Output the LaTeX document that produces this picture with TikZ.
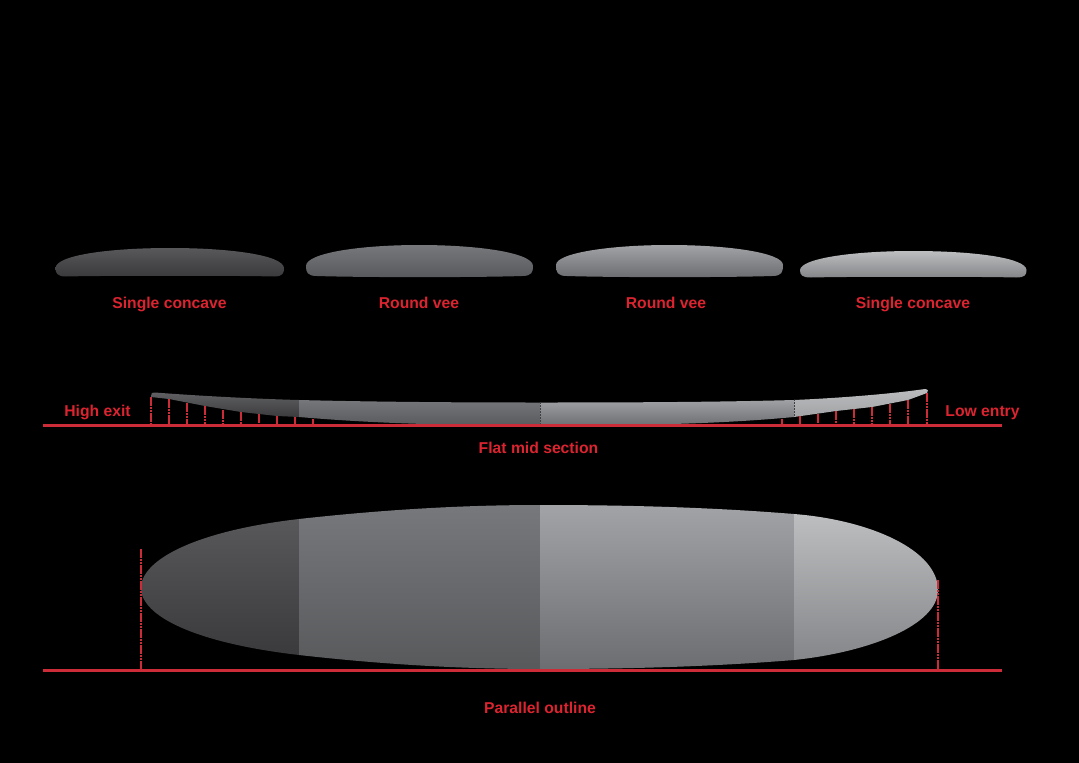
\documentclass[tikz,border=0pt]{standalone}
\usepackage{fontspec}
\setmainfont{Liberation Sans}
\definecolor{redline}{HTML}{CB2C38}
\definecolor{redtext}{HTML}{DC2430}
\definecolor{sAt}{HTML}{58585B}\definecolor{sAb}{HTML}{3A3A3C}
\definecolor{sBt}{HTML}{77787C}\definecolor{sBb}{HTML}{58595B}
\definecolor{sCt}{HTML}{A2A3A6}\definecolor{sCb}{HTML}{6C6D70}
\definecolor{sDt}{HTML}{BCBEC0}\definecolor{sDb}{HTML}{858689}
\tikzset{
  lbl/.style={text=redtext,font=\fontsize{15.7}{16}\selectfont\bfseries,inner sep=0pt,anchor=base},
  guide/.style={redline,line width=1.6pt,dash pattern=on 2.6pt off 0.6pt},
  base/.style={redline,line width=2.4pt},
  divider/.style={black!75!white,line width=0.6pt,dash pattern=on 1.5pt off 1.5pt},
}
\def\planpath{(141,588) .. controls (141,560) and (195,531) .. (299,519)
  .. controls (380,510) and (460,505) .. (540,505)
  .. controls (640,505) and (720,508) .. (794,514)
  .. controls (870,520) and (938,550) .. (938,590)
  .. controls (938,625) and (870,652) .. (794,660)
  .. controls (720,666) and (640,669) .. (540,669)
  .. controls (450,669) and (370,663) .. (299,655)
  .. controls (195,643) and (141,616) .. (141,588) -- cycle}
\def\rockerpath{(151,396) .. controls (151,393) and (152,392) .. (155,392.5)
  .. controls (200,396) and (260,399) .. (299,400)
  .. controls (380,402) and (460,402.5) .. (540,402.5)
  .. controls (640,402.5) and (720,402) .. (794,400)
  .. controls (840,398) and (890,394) .. (925,389)
  .. controls (928,389) and (929,392) .. (927,393)
  -- (908,400) -- (872,407) -- (836,411) -- (794,417)
  .. controls (720,424) and (640,425.5) .. (540,425.5)
  .. controls (460,425.5) and (380,424) .. (299,417)
  -- (277,416) -- (241,412) -- (205,406) -- (169,399) -- (151,397) -- cycle}
\begin{document}
\begin{tikzpicture}[x=1pt,y=-1pt]
\useasboundingbox (0,0) rectangle (1079,763);
\fill[black] (0,0) rectangle (1079,763);
% cross sections
\shade[top color=sAt,middle color=sAt!85!sAb,bottom color=sAb,shading angle=0]
  (55.5,268) .. controls (56,255) and (110,248) .. (170,248)
  .. controls (230,248) and (283,255) .. (284,268)
  .. controls (284,273) and (283,276.5) .. (274,276.5)
  .. controls (240,275.5) and (100,275.5) .. (66,276.5)
  .. controls (57,276.5) and (55.5,273) .. (55.5,268) -- cycle;
\shade[top color=sBt,middle color=sBt!95!sBb,bottom color=sBb,shading angle=0]
  (306,266) .. controls (306,253) and (360,245) .. (419,245)
  .. controls (480,245) and (533,253) .. (533,266)
  .. controls (533,272) and (532,276) .. (522,276)
  .. controls (480,277.5) and (360,277.5) .. (317,276)
  .. controls (307,276) and (306,272) .. (306,266) -- cycle;
\shade[top color=sCt,middle color=sCt!92!sCb,bottom color=sCb,shading angle=0]
  (556,265) .. controls (556,253) and (610,245) .. (669,245)
  .. controls (730,245) and (783,253) .. (783,265)
  .. controls (783,272) and (782,276) .. (772,276)
  .. controls (730,277.5) and (610,277.5) .. (567,276)
  .. controls (557,276) and (556,272) .. (556,265) -- cycle;
\shade[top color=sDt,middle color=sDt!92!sDb,bottom color=sDb,shading angle=0]
  (800,270) .. controls (801,258) and (855,251) .. (913,251)
  .. controls (975,251) and (1026,258) .. (1026.5,270)
  .. controls (1026.5,275) and (1025,277.5) .. (1016,277.5)
  .. controls (980,276.5) and (850,276.5) .. (811,277.5)
  .. controls (802,277.5) and (800,275) .. (800,270) -- cycle;
\node[lbl] (sec1) at (169.5,308) {Single concave};
\node[lbl] (sec2) at (419,308) {Round vee};
\node[lbl] (sec3) at (666,308) {Round vee};
\node[lbl] (sec4) at (913,308) {Single concave};
% rocker
\begin{scope}
\clip \rockerpath;
\shade[top color=sAt!60!sBt,bottom color=sAb,shading angle=0] (140,389) rectangle (299,418);
\shade[top color=sBt,bottom color=sBb,shading angle=0] (299,399) rectangle (540,426);
\shade[top color=sCt,bottom color=sCb,shading angle=0] (540,399) rectangle (794,426);
\shade[top color=sDt,bottom color=sDb!50!sDt,shading angle=0] (794,387) rectangle (930,418);
\draw[divider] (540,402) -- (540,426);
\draw[divider] (794,399) -- (794,418);
\end{scope}
% ticks and baseline
\foreach \x/\y in {151/397,169/399,187/403,205/406,223/410,241/412,259/414,277/416,295/417,313/419,
  782/419,800/416,818/414,836/411,854/409,872/407,890/404,908/400,927/393}
  \draw[guide] (\x,\y) -- (\x,425);
\draw[base] (43,425.3) -- (1002,425.3);
\node[lbl] (high) at (97.5,416.5) {High exit};
\node[lbl] (low) at (982.5,416.5) {Low entry};
\node[lbl] (flat) at (538.5,453) {Flat mid section};
% plan
\begin{scope}
\clip \planpath;
\shade[top color=sAt,bottom color=sAb,shading angle=0] (130,519) rectangle (299,656);
\shade[top color=sBt,bottom color=sBb,shading angle=0] (299,505) rectangle (540,670);
\shade[top color=sCt,bottom color=sCb,shading angle=0] (540,505) rectangle (794,670);
\shade[top color=sDt,bottom color=sDb,shading angle=0] (794,514) rectangle (940,661);
\end{scope}
\draw[guide] (141,549) -- (141,670);
\draw[guide] (938,580) -- (938,670);
\draw[base] (43,670.3) -- (1002,670.3);
\node[lbl] (parallel) at (540,713) {Parallel outline};
\end{tikzpicture}
\end{document}
